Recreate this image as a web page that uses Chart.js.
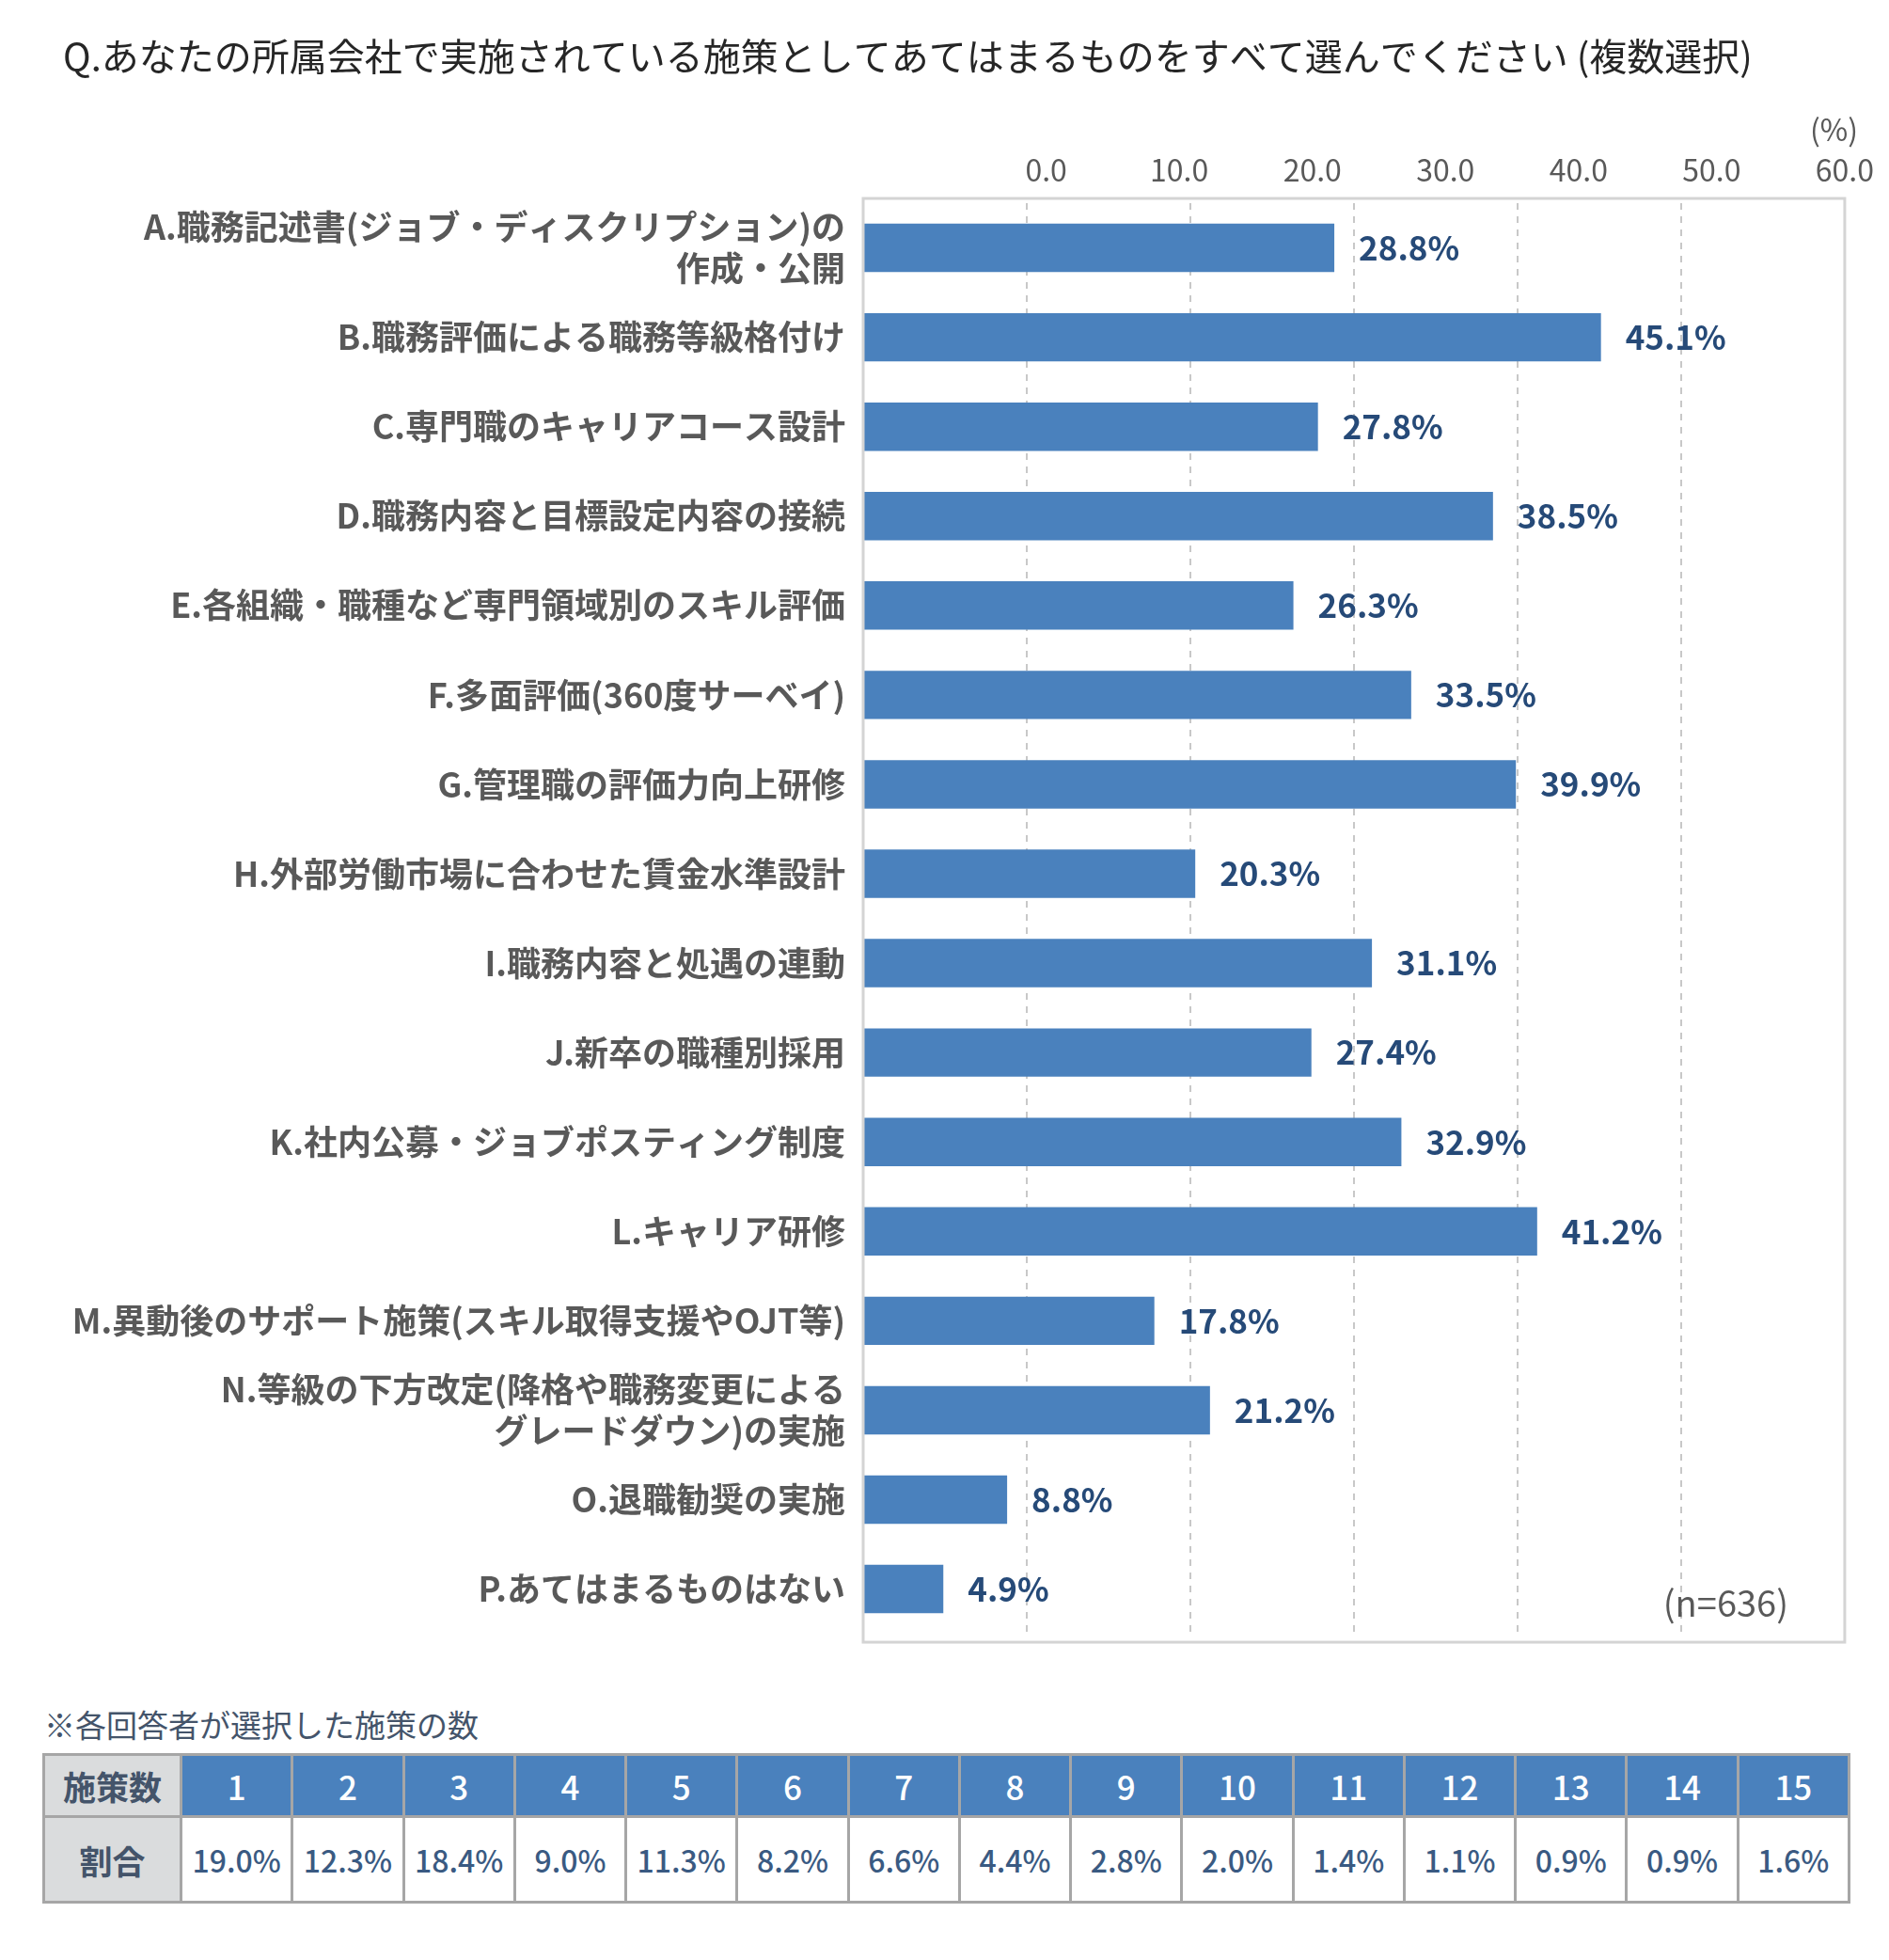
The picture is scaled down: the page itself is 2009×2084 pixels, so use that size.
<!DOCTYPE html>
<html lang="ja">
<head>
<meta charset="utf-8">
<script src="https://cdn.jsdelivr.net/npm/chart.js@4.4.1/dist/chart.umd.min.js"></script>
<style>
  html, body { margin: 0; padding: 0; background: #fff; }
  body { width: 2009px; height: 2084px; position: relative; font-family: "Noto Sans CJK JP", "Noto Sans", sans-serif; }
  #wrap { position: absolute; left: 0; top: 0; width: 2009px; height: 1800px; }
  #note { position: absolute; left: 47px; top: 1810px; font-size: 33px; color: #44546a; line-height: 46px; }
  #tbl { position: absolute; left: 45px; top: 1864px; width: 1923px; border-collapse: collapse; table-layout: fixed; }
  #tbl td { border: 3px solid #a6a6a6; text-align: center; padding: 0; }
  #tbl tr.head td { height: 63px; background: #4a81bd; color: #fff; font-size: 35px; font-weight: 500; }
  #tbl tr.vals td { height: 88px; background: #fff; color: #3a5a82; font-size: 32px; font-weight: 500; }
  #tbl td.rowhead { background: #dadcdd !important; color: #44546a !important; font-weight: 700 !important; font-size: 35px !important; }
</style>
</head>
<body>
<div id="wrap"><canvas id="chart"></canvas></div>
<div id="note">※各回答者が選択した施策の数</div>
<table id="tbl"></table>
<script>
const title = 'Q.あなたの所属会社で実施されている施策としてあてはまるものをすべて選んでください (複数選択)';
const categories = [
  ['A.職務記述書(ジョブ・ディスクリプション)の', '作成・公開'],
  'B.職務評価による職務等級格付け',
  'C.専門職のキャリアコース設計',
  'D.職務内容と目標設定内容の接続',
  'E.各組織・職種など専門領域別のスキル評価',
  'F.多面評価(360度サーベイ)',
  'G.管理職の評価力向上研修',
  'H.外部労働市場に合わせた賃金水準設計',
  'I.職務内容と処遇の連動',
  'J.新卒の職種別採用',
  'K.社内公募・ジョブポスティング制度',
  'L.キャリア研修',
  'M.異動後のサポート施策(スキル取得支援やOJT等)',
  ['N.等級の下方改定(降格や職務変更による', 'グレードダウン)の実施'],
  'O.退職勧奨の実施',
  'P.あてはまるものはない'
];
const values = [28.8, 45.1, 27.8, 38.5, 26.3, 33.5, 39.9, 20.3, 31.1, 27.4, 32.9, 41.2, 17.8, 21.2, 8.8, 4.9];
const tickLabels = ['0.0', '10.0', '20.0', '30.0', '40.0', '50.0', '60.0'];
const countLabels = ['1', '2', '3', '4', '5', '6', '7', '8', '9', '10', '11', '12', '13', '14', '15'];
const countShares = ['19.0%', '12.3%', '18.4%', '9.0%', '11.3%', '8.2%', '6.6%', '4.4%', '2.8%', '2.0%', '1.4%', '1.1%', '0.9%', '0.9%', '1.6%'];
const sampleNote = '(n=636)';
const unitNote = '(%)';

const FONT = '"Noto Sans CJK JP", "Noto Sans", sans-serif';

// table under the chart
const tbl = document.getElementById('tbl');
let html = '<colgroup><col style="width:146px">' + countLabels.map(() => '<col>').join('') + '</colgroup>';
html += '<tr class="head"><td class="rowhead">施策数</td>' + countLabels.map(c => '<td>' + c + '</td>').join('') + '</tr>';
html += '<tr class="vals"><td class="rowhead">割合</td>' + countShares.map(c => '<td>' + c + '</td>').join('') + '</tr>';
tbl.innerHTML = html;

const extras = {
  id: 'extras',
  beforeDraw(chart) {
    const c = chart.ctx;
    c.save();
    c.fillStyle = '#262626';
    c.font = '40px ' + FONT;
    c.textBaseline = 'middle';
    c.textAlign = 'left';
    c.fillText(title, 67, 60);
    c.fillStyle = '#595959';
    c.font = '32px ' + FONT;
    c.textAlign = 'right';
    c.fillText(unitNote, 1976, 138);
    c.restore();
  },
  afterDatasetsDraw(chart) {
    const c = chart.ctx;
    const a = chart.chartArea;
    c.save();
    // plot frame sits a little outside the category band
    c.strokeStyle = '#d4d4d4';
    c.lineWidth = 3;
    c.strokeRect(a.left, a.top - 5, a.right - a.left, a.bottom - a.top + 14);
    const meta = chart.getDatasetMeta(0);
    c.fillStyle = '#264a78';
    c.font = 'bold 35px ' + FONT;
    c.textBaseline = 'middle';
    c.textAlign = 'left';
    meta.data.forEach((bar, i) => {
      c.fillText(values[i].toFixed(1) + '%', bar.x + 26, bar.y);
    });
    c.fillStyle = '#595959';
    c.font = '38px ' + FONT;
    c.textAlign = 'right';
    c.fillText(sampleNote, 1902, 1705);
    c.restore();
  }
};

new Chart(document.getElementById('chart'), {
  type: 'bar',
  data: {
    labels: categories,
    datasets: [{
      data: values,
      backgroundColor: '#4a81bd',
      borderWidth: 0,
      barPercentage: 0.541,
      categoryPercentage: 1
    }]
  },
  options: {
    indexAxis: 'y',
    responsive: true,
    maintainAspectRatio: false,
    animation: false,
    devicePixelRatio: 1,
    layout: { padding: { top: 154, right: 41, bottom: 47, left: 0 } },
    plugins: { legend: { display: false }, tooltip: { enabled: false }, title: { display: false } },
    scales: {
      x: {
        position: 'bottom',
        min: 0, max: 60,
        ticks: { display: false, stepSize: 10 },
        grid: {
          drawTicks: false,
          lineWidth: 2,
          color: ctx => (ctx.tick && (ctx.tick.value === 0 || ctx.tick.value === 60)) ? 'rgba(0,0,0,0)' : '#c8c8c8'
        },
        border: { display: false, dash: [7, 7] },
        afterFit: s => { s.height = 0; }
      },
      x2: {
        position: 'top',
        type: 'linear',
        min: -13.75, max: 60,
        grid: { display: false, drawTicks: false },
        border: { display: false },
        afterBuildTicks: s => { s.ticks = tickLabels.map(t => ({ value: parseFloat(t) })); },
        ticks: {
          padding: 16,
          color: '#595959',
          font: { family: FONT, size: 32 },
          callback: (v) => tickLabels.find(t => parseFloat(t) === v) || ''
        },
        afterFit: s => { s.height = 62; }
      },
      y: {
        grid: { display: false, drawTicks: false },
        border: { display: false },
        ticks: {
          padding: 19,
          color: '#595959',
          font: { family: FONT, size: 36, weight: 'bold', lineHeight: 1.22 },
          autoSkip: false
        },
        afterFit: s => { s.width = 918; }
      }
    }
  },
  plugins: [extras]
});
</script>
</body>
</html>
